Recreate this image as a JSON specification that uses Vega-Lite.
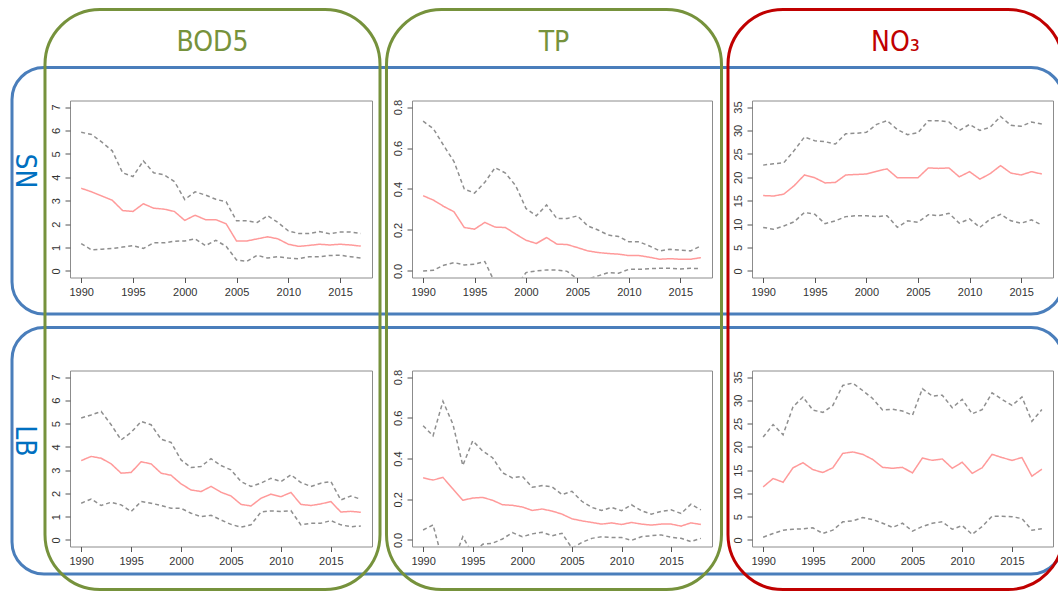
{
  "$schema": "https://vega.github.io/schema/vega-lite/v6.json",
  "padding": {"left": 8, "top": 7.5, "right": 0, "bottom": 0},
  "background": "white",
  "bounds": "flush",
  "columns": 3,
  "spacing": {"row": 93, "column": 40},
  "datasets": {
    "sn_bod": [
      {"year":1990,"mean":3.53,"hi":5.92,"lo":1.17},{"year":1991,"mean":3.38,"hi":5.83,"lo":0.90},{"year":1992,"mean":3.20,"hi":5.50,"lo":0.93},{"year":1993,"mean":3.02,"hi":5.13,"lo":0.96},{"year":1994,"mean":2.58,"hi":4.19,"lo":1.02},{"year":1995,"mean":2.54,"hi":4.03,"lo":1.08},{"year":1996,"mean":2.87,"hi":4.70,"lo":0.96},{"year":1997,"mean":2.68,"hi":4.19,"lo":1.20},{"year":1998,"mean":2.64,"hi":4.11,"lo":1.20},{"year":1999,"mean":2.54,"hi":3.82,"lo":1.27},{"year":2000,"mean":2.16,"hi":3.05,"lo":1.28},{"year":2001,"mean":2.38,"hi":3.38,"lo":1.37},{"year":2002,"mean":2.19,"hi":3.24,"lo":1.08},{"year":2003,"mean":2.19,"hi":3.06,"lo":1.31},{"year":2004,"mean":2.01,"hi":2.95,"lo":1.05},{"year":2005,"mean":1.28,"hi":2.14,"lo":0.47},{"year":2006,"mean":1.28,"hi":2.14,"lo":0.41},{"year":2007,"mean":1.37,"hi":2.07,"lo":0.67},{"year":2008,"mean":1.46,"hi":2.36,"lo":0.55},{"year":2009,"mean":1.37,"hi":2.07,"lo":0.61},{"year":2010,"mean":1.14,"hi":1.71,"lo":0.55},{"year":2011,"mean":1.05,"hi":1.60,"lo":0.52},{"year":2012,"mean":1.09,"hi":1.60,"lo":0.61},{"year":2013,"mean":1.14,"hi":1.68,"lo":0.61},{"year":2014,"mean":1.11,"hi":1.59,"lo":0.66},{"year":2015,"mean":1.14,"hi":1.66,"lo":0.67},{"year":2016,"mean":1.11,"hi":1.66,"lo":0.61},{"year":2017,"mean":1.06,"hi":1.60,"lo":0.55}
    ],
    "sn_tp": [
      {"year":1990,"mean":0.367,"hi":0.731,"lo":0.000},{"year":1991,"mean":0.346,"hi":0.694,"lo":0.003},{"year":1992,"mean":0.315,"hi":0.612,"lo":0.028},{"year":1993,"mean":0.289,"hi":0.534,"lo":0.041},{"year":1994,"mean":0.212,"hi":0.400,"lo":0.029},{"year":1995,"mean":0.204,"hi":0.380,"lo":0.033},{"year":1996,"mean":0.237,"hi":0.433,"lo":0.046},{"year":1997,"mean":0.214,"hi":0.504,"lo":-0.060},{"year":1998,"mean":0.212,"hi":0.478,"lo":-0.090},{"year":1999,"mean":0.180,"hi":0.416,"lo":-0.079},{"year":2000,"mean":0.150,"hi":0.305,"lo":-0.008},{"year":2001,"mean":0.134,"hi":0.269,"lo":0.000},{"year":2002,"mean":0.163,"hi":0.322,"lo":0.005},{"year":2003,"mean":0.131,"hi":0.256,"lo":0.005},{"year":2004,"mean":0.129,"hi":0.256,"lo":-0.002},{"year":2005,"mean":0.114,"hi":0.269,"lo":-0.040},{"year":2006,"mean":0.098,"hi":0.220,"lo":-0.040},{"year":2007,"mean":0.090,"hi":0.200,"lo":-0.024},{"year":2008,"mean":0.085,"hi":0.175,"lo":-0.008},{"year":2009,"mean":0.082,"hi":0.168,"lo":-0.011},{"year":2010,"mean":0.075,"hi":0.142,"lo":0.008},{"year":2011,"mean":0.075,"hi":0.142,"lo":0.008},{"year":2012,"mean":0.067,"hi":0.122,"lo":0.011},{"year":2013,"mean":0.057,"hi":0.098,"lo":0.013},{"year":2014,"mean":0.060,"hi":0.106,"lo":0.013},{"year":2015,"mean":0.057,"hi":0.101,"lo":0.010},{"year":2016,"mean":0.057,"hi":0.098,"lo":0.013},{"year":2017,"mean":0.065,"hi":0.122,"lo":0.011}
    ],
    "sn_no3": [
      {"year":1990,"mean":16.1,"hi":22.6,"lo":9.3},{"year":1991,"mean":16.0,"hi":22.9,"lo":8.9},{"year":1992,"mean":16.4,"hi":23.1,"lo":9.6},{"year":1993,"mean":18.2,"hi":25.7,"lo":10.5},{"year":1994,"mean":20.5,"hi":28.6,"lo":12.5},{"year":1995,"mean":19.9,"hi":27.8,"lo":12.1},{"year":1996,"mean":18.8,"hi":27.6,"lo":10.1},{"year":1997,"mean":18.9,"hi":27.1,"lo":10.7},{"year":1998,"mean":20.5,"hi":29.3,"lo":11.6},{"year":1999,"mean":20.6,"hi":29.4,"lo":11.8},{"year":2000,"mean":20.7,"hi":29.6,"lo":11.8},{"year":2001,"mean":21.3,"hi":31.3,"lo":11.6},{"year":2002,"mean":21.8,"hi":32.1,"lo":11.8},{"year":2003,"mean":19.9,"hi":30.2,"lo":9.3},{"year":2004,"mean":19.9,"hi":29.1,"lo":10.7},{"year":2005,"mean":19.9,"hi":29.5,"lo":10.4},{"year":2006,"mean":22.0,"hi":32.1,"lo":12.0},{"year":2007,"mean":21.9,"hi":32.1,"lo":11.8},{"year":2008,"mean":22.0,"hi":31.8,"lo":12.3},{"year":2009,"mean":20.1,"hi":30.0,"lo":10.2},{"year":2010,"mean":21.2,"hi":31.3,"lo":11.1},{"year":2011,"mean":19.6,"hi":30.0,"lo":9.3},{"year":2012,"mean":20.8,"hi":30.7,"lo":11.1},{"year":2013,"mean":22.5,"hi":33.0,"lo":12.1},{"year":2014,"mean":20.9,"hi":31.1,"lo":10.7},{"year":2015,"mean":20.5,"hi":30.9,"lo":10.2},{"year":2016,"mean":21.2,"hi":31.8,"lo":10.9},{"year":2017,"mean":20.7,"hi":31.4,"lo":9.8}
    ],
    "lb_bod": [
      {"year":1990,"mean":3.41,"hi":5.24,"lo":1.58},{"year":1991,"mean":3.59,"hi":5.37,"lo":1.76},{"year":1992,"mean":3.51,"hi":5.52,"lo":1.48},{"year":1993,"mean":3.27,"hi":4.95,"lo":1.62},{"year":1994,"mean":2.87,"hi":4.30,"lo":1.51},{"year":1995,"mean":2.90,"hi":4.62,"lo":1.22},{"year":1996,"mean":3.36,"hi":5.09,"lo":1.65},{"year":1997,"mean":3.27,"hi":4.95,"lo":1.58},{"year":1998,"mean":2.87,"hi":4.33,"lo":1.48},{"year":1999,"mean":2.78,"hi":4.19,"lo":1.36},{"year":2000,"mean":2.41,"hi":3.44,"lo":1.36},{"year":2001,"mean":2.15,"hi":3.11,"lo":1.15},{"year":2002,"mean":2.08,"hi":3.16,"lo":1.00},{"year":2003,"mean":2.30,"hi":3.49,"lo":1.06},{"year":2004,"mean":2.05,"hi":3.20,"lo":0.86},{"year":2005,"mean":1.89,"hi":3.01,"lo":0.67},{"year":2006,"mean":1.53,"hi":2.51,"lo":0.55},{"year":2007,"mean":1.46,"hi":2.30,"lo":0.65},{"year":2008,"mean":1.79,"hi":2.44,"lo":1.20},{"year":2009,"mean":1.97,"hi":2.65,"lo":1.25},{"year":2010,"mean":1.86,"hi":2.51,"lo":1.22},{"year":2011,"mean":2.04,"hi":2.80,"lo":1.26},{"year":2012,"mean":1.53,"hi":2.47,"lo":0.65},{"year":2013,"mean":1.48,"hi":2.30,"lo":0.72},{"year":2014,"mean":1.55,"hi":2.44,"lo":0.72},{"year":2015,"mean":1.65,"hi":2.51,"lo":0.83},{"year":2016,"mean":1.20,"hi":1.72,"lo":0.65},{"year":2017,"mean":1.23,"hi":1.89,"lo":0.57},{"year":2018,"mean":1.19,"hi":1.75,"lo":0.60}
    ],
    "lb_tp": [
      {"year":1990,"mean":0.305,"hi":0.561,"lo":0.049},{"year":1991,"mean":0.294,"hi":0.511,"lo":0.074},{"year":1992,"mean":0.307,"hi":0.681,"lo":-0.107},{"year":1993,"mean":0.251,"hi":0.569,"lo":-0.113},{"year":1994,"mean":0.195,"hi":0.366,"lo":0.016},{"year":1995,"mean":0.206,"hi":0.487,"lo":-0.070},{"year":1996,"mean":0.209,"hi":0.437,"lo":-0.021},{"year":1997,"mean":0.195,"hi":0.404,"lo":-0.016},{"year":1998,"mean":0.173,"hi":0.330,"lo":0.005},{"year":1999,"mean":0.170,"hi":0.305,"lo":0.036},{"year":2000,"mean":0.162,"hi":0.313,"lo":0.016},{"year":2001,"mean":0.145,"hi":0.259,"lo":0.030},{"year":2002,"mean":0.152,"hi":0.267,"lo":0.038},{"year":2003,"mean":0.142,"hi":0.261,"lo":0.021},{"year":2004,"mean":0.127,"hi":0.223,"lo":0.033},{"year":2005,"mean":0.104,"hi":0.239,"lo":-0.040},{"year":2006,"mean":0.094,"hi":0.190,"lo":-0.012},{"year":2007,"mean":0.086,"hi":0.160,"lo":0.008},{"year":2008,"mean":0.078,"hi":0.145,"lo":0.016},{"year":2009,"mean":0.084,"hi":0.160,"lo":0.012},{"year":2010,"mean":0.076,"hi":0.144,"lo":0.012},{"year":2011,"mean":0.086,"hi":0.173,"lo":-0.002},{"year":2012,"mean":0.078,"hi":0.144,"lo":0.016},{"year":2013,"mean":0.073,"hi":0.127,"lo":0.021},{"year":2014,"mean":0.078,"hi":0.140,"lo":0.025},{"year":2015,"mean":0.078,"hi":0.148,"lo":0.013},{"year":2016,"mean":0.068,"hi":0.130,"lo":0.008},{"year":2017,"mean":0.084,"hi":0.176,"lo":-0.008},{"year":2018,"mean":0.076,"hi":0.148,"lo":0.008}
    ],
    "lb_no3": [
      {"year":1990,"mean":11.4,"hi":22.1,"lo":0.6},{"year":1991,"mean":13.2,"hi":24.8,"lo":1.4},{"year":1992,"mean":12.4,"hi":22.6,"lo":2.1},{"year":1993,"mean":15.5,"hi":28.6,"lo":2.3},{"year":1994,"mean":16.6,"hi":30.7,"lo":2.4},{"year":1995,"mean":15.1,"hi":27.9,"lo":2.6},{"year":1996,"mean":14.5,"hi":27.4,"lo":1.4},{"year":1997,"mean":15.5,"hi":28.9,"lo":2.1},{"year":1998,"mean":18.6,"hi":33.2,"lo":3.9},{"year":1999,"mean":18.9,"hi":33.7,"lo":4.1},{"year":2000,"mean":18.4,"hi":32.1,"lo":4.8},{"year":2001,"mean":17.3,"hi":30.4,"lo":4.4},{"year":2002,"mean":15.6,"hi":27.9,"lo":3.6},{"year":2003,"mean":15.4,"hi":28.1,"lo":2.7},{"year":2004,"mean":15.6,"hi":27.7,"lo":3.6},{"year":2005,"mean":14.4,"hi":26.8,"lo":1.9},{"year":2006,"mean":17.6,"hi":32.5,"lo":2.9},{"year":2007,"mean":17.1,"hi":30.9,"lo":3.6},{"year":2008,"mean":17.4,"hi":31.1,"lo":3.9},{"year":2009,"mean":15.4,"hi":28.4,"lo":2.3},{"year":2010,"mean":16.7,"hi":30.2,"lo":3.1},{"year":2011,"mean":14.3,"hi":27.1,"lo":1.2},{"year":2012,"mean":15.5,"hi":28.0,"lo":2.9},{"year":2013,"mean":18.4,"hi":31.6,"lo":5.1},{"year":2014,"mean":17.7,"hi":30.2,"lo":5.1},{"year":2015,"mean":17.1,"hi":28.9,"lo":5.0},{"year":2016,"mean":17.7,"hi":30.7,"lo":4.6},{"year":2017,"mean":13.7,"hi":25.5,"lo":2.1},{"year":2018,"mean":15.2,"hi":28.0,"lo":2.4}
    ]
  },
  "concat": [
    {
      "width": 302, "height": 177,
      "resolve": {"scale": {"x": "independent", "y": "independent"}},
      "layer": [
        {
          "data": {"values": [{"site": "SN"}, {"site": "LB"}]},
          "mark": {"type": "rect", "filled": false, "cornerRadius": 32, "strokeWidth": 3, "stroke": "#4a7ebb", "clip": false},
          "encoding": {
            "x": {"datum": "all", "type": "nominal", "scale": {"type": "band", "domain": ["all"], "range": [-58, 993], "paddingInner": 0, "paddingOuter": 0}, "axis": null},
            "y": {"field": "site", "type": "nominal", "sort": null, "scale": {"type": "band", "domain": ["SN", "LB"], "range": [-91, 489], "paddingInner": 0.052, "paddingOuter": 0.1413, "align": 0.789}, "axis": null}
          }
        },
        {
          "data": {"values": [{"param": "BOD5"}, {"param": "TP"}, {"param": "NO3"}]},
          "mark": {"type": "rect", "filled": false, "cornerRadius": 55, "strokeWidth": 3, "clip": false},
          "encoding": {
            "x": {"field": "param", "type": "nominal", "sort": null, "scale": {"type": "band", "domain": ["BOD5", "TP", "NO3"], "range": [-58, 993], "paddingInner": 0.019, "paddingOuter": 0.0483, "align": 1},
              "axis": {"orient": "top", "offset": 58, "domain": false, "ticks": false, "labelPadding": 0, "labelBaseline": "middle", "labelAngle": 0, "labelFont": "Liberation Sans Narrow, DejaVu Sans Condensed, Liberation Sans, sans-serif", "labelFontSize": 28, "labelColor": {"condition": {"test": "datum.value === 'NO3'", "value": "#c00000"}, "value": "#76923c"}, "labelExpr": "datum.value === 'NO3' ? 'NO₃' : datum.value", "title": null, "labelFlush": false}},
            "y": {"datum": "all", "type": "nominal", "scale": {"type": "band", "domain": ["all"], "range": [-91, 489], "paddingInner": 0, "paddingOuter": 0}, "axis": null},
            "stroke": {"field": "param", "type": "nominal", "scale": {"domain": ["BOD5", "TP", "NO3"], "range": ["#76923c", "#76923c", "#c00000"]}, "legend": null}
          }
        },
        {
          "data": {"name": "sn_bod"},
          "transform": [{"fold": ["hi", "lo", "mean"], "as": ["series", "v"]}],
          "mark": {"type": "line", "clip": true},
          "encoding": {
            "x": {"field": "year", "type": "quantitative", "scale": {"domain": [1988.92, 2018.08], "nice": false, "zero": false}, "axis": {"orient": "bottom", "values": [1990, 1995, 2000, 2005, 2010, 2015], "format": "d", "title": null}},
            "y": {"field": "v", "type": "quantitative", "scale": {"domain": [-0.28, 7.28], "nice": false, "zero": false}, "axis": {"orient": "left", "values": [0, 1, 2, 3, 4, 5, 6, 7], "format": "d", "title": "SN", "titleColor": "#0070c0", "titleFont": "Liberation Sans Narrow, DejaVu Sans Condensed, Liberation Sans, sans-serif", "titleFontSize": 28, "titleFontWeight": "normal", "titleAngle": 90, "titleBaseline": "top", "titlePadding": 13, "titleY": 70}},
            "color": {"field": "series", "type": "nominal", "scale": {"domain": ["hi", "lo", "mean"], "range": ["#8f8f8f", "#8f8f8f", "#ff9a9a"]}, "legend": null},
            "strokeDash": {"field": "series", "type": "nominal", "scale": {"domain": ["hi", "lo", "mean"], "range": [[4, 3], [4, 3], [1, 0]]}, "legend": null},
            "strokeWidth": {"field": "series", "type": "ordinal", "scale": {"domain": ["hi", "lo", "mean"], "range": [1.5, 1.5, 2]}, "legend": null}
          }
        }
      ]
    },
    {
      "width": 300, "height": 177,
      "data": {"name": "sn_tp"},
      "transform": [{"fold": ["hi", "lo", "mean"], "as": ["series", "v"]}],
      "mark": {"type": "line", "clip": true},
      "encoding": {
        "x": {"field": "year", "type": "quantitative", "scale": {"domain": [1988.92, 2018.08], "nice": false, "zero": false}, "axis": {"values": [1990, 1995, 2000, 2005, 2010, 2015], "format": "d", "title": null}},
        "y": {"field": "v", "type": "quantitative", "scale": {"domain": [-0.032, 0.832], "nice": false, "zero": false}, "axis": {"values": [0, 0.2, 0.4, 0.6, 0.8], "format": ".1f", "title": null}},
        "color": {"field": "series", "type": "nominal", "scale": {"domain": ["hi", "lo", "mean"], "range": ["#8f8f8f", "#8f8f8f", "#ff9a9a"]}, "legend": null},
        "strokeDash": {"field": "series", "type": "nominal", "scale": {"domain": ["hi", "lo", "mean"], "range": [[4, 3], [4, 3], [1, 0]]}, "legend": null},
        "strokeWidth": {"field": "series", "type": "ordinal", "scale": {"domain": ["hi", "lo", "mean"], "range": [1.5, 1.5, 2]}, "legend": null}
      }
    },
    {
      "width": 301, "height": 177,
      "data": {"name": "sn_no3"},
      "transform": [{"fold": ["hi", "lo", "mean"], "as": ["series", "v"]}],
      "mark": {"type": "line", "clip": true},
      "encoding": {
        "x": {"field": "year", "type": "quantitative", "scale": {"domain": [1988.92, 2018.08], "nice": false, "zero": false}, "axis": {"values": [1990, 1995, 2000, 2005, 2010, 2015], "format": "d", "title": null}},
        "y": {"field": "v", "type": "quantitative", "scale": {"domain": [-1.4, 36.4], "nice": false, "zero": false}, "axis": {"values": [0, 5, 10, 15, 20, 25, 30, 35], "format": "d", "title": null}},
        "color": {"field": "series", "type": "nominal", "scale": {"domain": ["hi", "lo", "mean"], "range": ["#8f8f8f", "#8f8f8f", "#ff9a9a"]}, "legend": null},
        "strokeDash": {"field": "series", "type": "nominal", "scale": {"domain": ["hi", "lo", "mean"], "range": [[4, 3], [4, 3], [1, 0]]}, "legend": null},
        "strokeWidth": {"field": "series", "type": "ordinal", "scale": {"domain": ["hi", "lo", "mean"], "range": [1.5, 1.5, 2]}, "legend": null}
      }
    },
    {
      "width": 302, "height": 176,
      "data": {"name": "lb_bod"},
      "transform": [{"fold": ["hi", "lo", "mean"], "as": ["series", "v"]}],
      "mark": {"type": "line", "clip": true},
      "encoding": {
        "x": {"field": "year", "type": "quantitative", "scale": {"domain": [1988.88, 2019.12], "nice": false, "zero": false}, "axis": {"values": [1990, 1995, 2000, 2005, 2010, 2015], "format": "d", "title": null}},
        "y": {"field": "v", "type": "quantitative", "scale": {"domain": [-0.28, 7.28], "nice": false, "zero": false}, "axis": {"values": [0, 1, 2, 3, 4, 5, 6, 7], "format": "d", "title": "LB", "titleColor": "#0070c0", "titleFont": "Liberation Sans Narrow, DejaVu Sans Condensed, Liberation Sans, sans-serif", "titleFontSize": 28, "titleFontWeight": "normal", "titleAngle": 90, "titleBaseline": "top", "titlePadding": 13, "titleY": 70}},
        "color": {"field": "series", "type": "nominal", "scale": {"domain": ["hi", "lo", "mean"], "range": ["#8f8f8f", "#8f8f8f", "#ff9a9a"]}, "legend": null},
        "strokeDash": {"field": "series", "type": "nominal", "scale": {"domain": ["hi", "lo", "mean"], "range": [[4, 3], [4, 3], [1, 0]]}, "legend": null},
        "strokeWidth": {"field": "series", "type": "ordinal", "scale": {"domain": ["hi", "lo", "mean"], "range": [1.5, 1.5, 2]}, "legend": null}
      }
    },
    {
      "width": 300, "height": 176,
      "data": {"name": "lb_tp"},
      "transform": [{"fold": ["hi", "lo", "mean"], "as": ["series", "v"]}],
      "mark": {"type": "line", "clip": true},
      "encoding": {
        "x": {"field": "year", "type": "quantitative", "scale": {"domain": [1988.88, 2019.12], "nice": false, "zero": false}, "axis": {"values": [1990, 1995, 2000, 2005, 2010, 2015], "format": "d", "title": null}},
        "y": {"field": "v", "type": "quantitative", "scale": {"domain": [-0.032, 0.832], "nice": false, "zero": false}, "axis": {"values": [0, 0.2, 0.4, 0.6, 0.8], "format": ".1f", "title": null}},
        "color": {"field": "series", "type": "nominal", "scale": {"domain": ["hi", "lo", "mean"], "range": ["#8f8f8f", "#8f8f8f", "#ff9a9a"]}, "legend": null},
        "strokeDash": {"field": "series", "type": "nominal", "scale": {"domain": ["hi", "lo", "mean"], "range": [[4, 3], [4, 3], [1, 0]]}, "legend": null},
        "strokeWidth": {"field": "series", "type": "ordinal", "scale": {"domain": ["hi", "lo", "mean"], "range": [1.5, 1.5, 2]}, "legend": null}
      }
    },
    {
      "width": 301, "height": 176,
      "data": {"name": "lb_no3"},
      "transform": [{"fold": ["hi", "lo", "mean"], "as": ["series", "v"]}],
      "mark": {"type": "line", "clip": true},
      "encoding": {
        "x": {"field": "year", "type": "quantitative", "scale": {"domain": [1988.88, 2019.12], "nice": false, "zero": false}, "axis": {"values": [1990, 1995, 2000, 2005, 2010, 2015], "format": "d", "title": null}},
        "y": {"field": "v", "type": "quantitative", "scale": {"domain": [-1.4, 36.4], "nice": false, "zero": false}, "axis": {"values": [0, 5, 10, 15, 20, 25, 30, 35], "format": "d", "title": null}},
        "color": {"field": "series", "type": "nominal", "scale": {"domain": ["hi", "lo", "mean"], "range": ["#8f8f8f", "#8f8f8f", "#ff9a9a"]}, "legend": null},
        "strokeDash": {"field": "series", "type": "nominal", "scale": {"domain": ["hi", "lo", "mean"], "range": [[4, 3], [4, 3], [1, 0]]}, "legend": null},
        "strokeWidth": {"field": "series", "type": "ordinal", "scale": {"domain": ["hi", "lo", "mean"], "range": [1.5, 1.5, 2]}, "legend": null}
      }
    }
  ],
  "config": {
    "font": "Liberation Sans",
    "view": {"stroke": "#8c8c8c", "strokeWidth": 1},
    "axis": {"domain": false, "grid": false, "tickColor": "#555555", "tickSize": 5, "tickWidth": 1, "labelFont": "Liberation Sans", "labelFontSize": 11, "labelColor": "#333333", "labelFlush": false, "labelOverlap": false},
    "axisX": {"labelPadding": 4},
    "axisY": {"labelAngle": -90, "labelAlign": "center", "labelBaseline": "bottom", "labelPadding": 4}
  }
}
